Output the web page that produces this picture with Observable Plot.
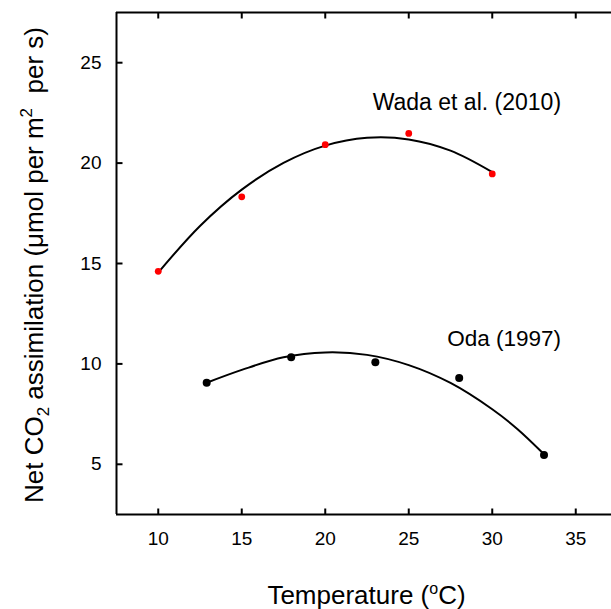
<!DOCTYPE html>
<html><head><meta charset="utf-8">
<script src="https://cdn.jsdelivr.net/npm/d3@7"></script>
<script src="https://cdn.jsdelivr.net/npm/@observablehq/plot@0.6"></script>
<style>body{margin:0;background:#fff}</style>
</head><body><div id="chart"></div>
<script>
// Measured points
const wadaTemp = [10, 15, 20, 25, 30];
const wadaRate = [14.61, 18.32, 20.92, 21.48, 19.46];
const odaTemp = [12.9, 17.96, 23.0, 28.02, 33.1];
const odaRate = [9.06, 10.33, 10.08, 9.30, 5.46];
// Fitted curves
const wadaFitTemp = [10, 12.5, 15, 17.5, 20, 22.5, 25, 27.5, 30];
const wadaFitRate = [14.55, 16.87, 18.68, 20.01, 20.87, 21.26, 21.18, 20.62, 19.55];
const odaFitTemp = [12.9, 15, 17.5, 20, 22.5, 25, 27.5, 30, 31.5, 33.1];
const odaFitRate = [9.06, 9.70, 10.33, 10.57, 10.45, 9.94, 9.05, 7.74, 6.76, 5.5];
// Axes
const xDomain = [7.5, 37.5];
const yDomain = [2.5, 27.5];
const xTicks = [10, 15, 20, 25, 30, 35];
const yTicks = [5, 10, 15, 20, 25];
const seriesNames = ["Wada et al. (2010)", "Oda (1997)"];
const labelTemp = [22.84, 27.3];
const labelRate = [22.66, 10.9];

(function () {
const wadaPts = wadaTemp.map((t, i) => ({t, a: wadaRate[i]}));
const odaPts = odaTemp.map((t, i) => ({t, a: odaRate[i]}));
const wadaFit = wadaFitTemp.map((t, i) => ({t, a: wadaFitRate[i]}));
const odaFit = odaFitTemp.map((t, i) => ({t, a: odaFitRate[i]}));
const labels = seriesNames.map((s, i) => ({s, t: labelTemp[i], a: labelRate[i], fs: i === 0 ? 23 : 22.5}));

const W = 611, H = 609;
const pL = 116, pR = 617, pT = 12, pB = 514;
const tl = 6; // tick length in px
const kx = (pR - pL) / (xDomain[1] - xDomain[0]);
const ky = (pB - pT) / (yDomain[1] - yDomain[0]);
const ff = "'Liberation Sans', Arial, sans-serif";

const xTickRows = xTicks.flatMap(v => [{v, a: yDomain[0], b: yDomain[0] + tl / ky}, {v, a: yDomain[1] - tl / ky, b: yDomain[1]}]);
const yTickRows = yTicks.map(v => ({v, a: xDomain[0], b: xDomain[0] + tl / kx}));

const chart = Plot.plot({
  width: W, height: H,
  marginLeft: pL, marginTop: pT, marginBottom: H - pB, marginRight: 0,
  x: {domain: xDomain, range: [pL, pR], axis: null},
  y: {domain: yDomain, range: [pB, pT], axis: null},
  style: {fontFamily: ff, fontSize: "19px", color: "#000", background: "#fff", overflow: "hidden"},
  marks: [
    // tick labels
    Plot.text(xTicks, {x: d => d, y: yDomain[0], dy: 24.5, text: d => String(d), lineAnchor: "middle", fontSize: 19, fill: "#000"}),
    Plot.text(yTicks, {y: d => d, x: xDomain[0], dx: -15, text: d => String(d), textAnchor: "end", lineAnchor: "middle", fontSize: 19, fill: "#000"}),
    // inward ticks
    Plot.link(xTickRows, {x1: "v", x2: "v", y1: "a", y2: "b", stroke: "#000", strokeWidth: 2}),
    Plot.link(yTickRows, {y1: "v", y2: "v", x1: "a", x2: "b", stroke: "#000", strokeWidth: 2}),
    // frame
    Plot.ruleX([xDomain[0]], {stroke: "#000", strokeWidth: 2}),
    Plot.ruleY(yDomain, {stroke: "#000", strokeWidth: 2}),
    // fits & points
    Plot.line(wadaFit, {x: "t", y: "a", curve: "catmull-rom", stroke: "#000", strokeWidth: 2}),
    Plot.line(odaFit, {x: "t", y: "a", curve: "catmull-rom", stroke: "#000", strokeWidth: 2}),
    Plot.dot(wadaPts, {x: "t", y: "a", r: 3.4, fill: "#ff0000"}),
    Plot.dot(odaPts, {x: "t", y: "a", r: 4, fill: "#000"}),
    Plot.text(labels, {x: "t", y: "a", text: "s", textAnchor: "start", lineAnchor: "bottom", fontSize: "fs", fill: "#000"})
  ]
});

const svg = d3.select(chart);
// X title
const xt = svg.append("text")
  .attr("x", (pL + pR) / 2).attr("y", 604)
  .attr("text-anchor", "middle").attr("font-family", ff).attr("font-size", 26).attr("fill", "#000");
xt.append("tspan").text("Temperature (");
xt.append("tspan").attr("font-size", 16).attr("dy", -10).text("o");
xt.append("tspan").attr("dy", 10).text("C)");
// Y title
const yt = svg.append("text")
  .attr("transform", `translate(43,${(pT + pB) / 2 + 2}) rotate(-90)`)
  .attr("text-anchor", "middle").attr("font-family", ff).attr("font-size", 26).attr("fill", "#000");
yt.append("tspan").text("Net CO");
yt.append("tspan").attr("font-size", 17).attr("dy", 6).text("2");
yt.append("tspan").attr("dy", -6).text(" assimilation (\u03bcmol per m");
yt.append("tspan").attr("font-size", 17).attr("dy", -11).text("2");
yt.append("tspan").attr("dy", 11).text("\u00a0 per s)");

document.getElementById("chart").appendChild(chart);
})();
</script>
</body></html>
